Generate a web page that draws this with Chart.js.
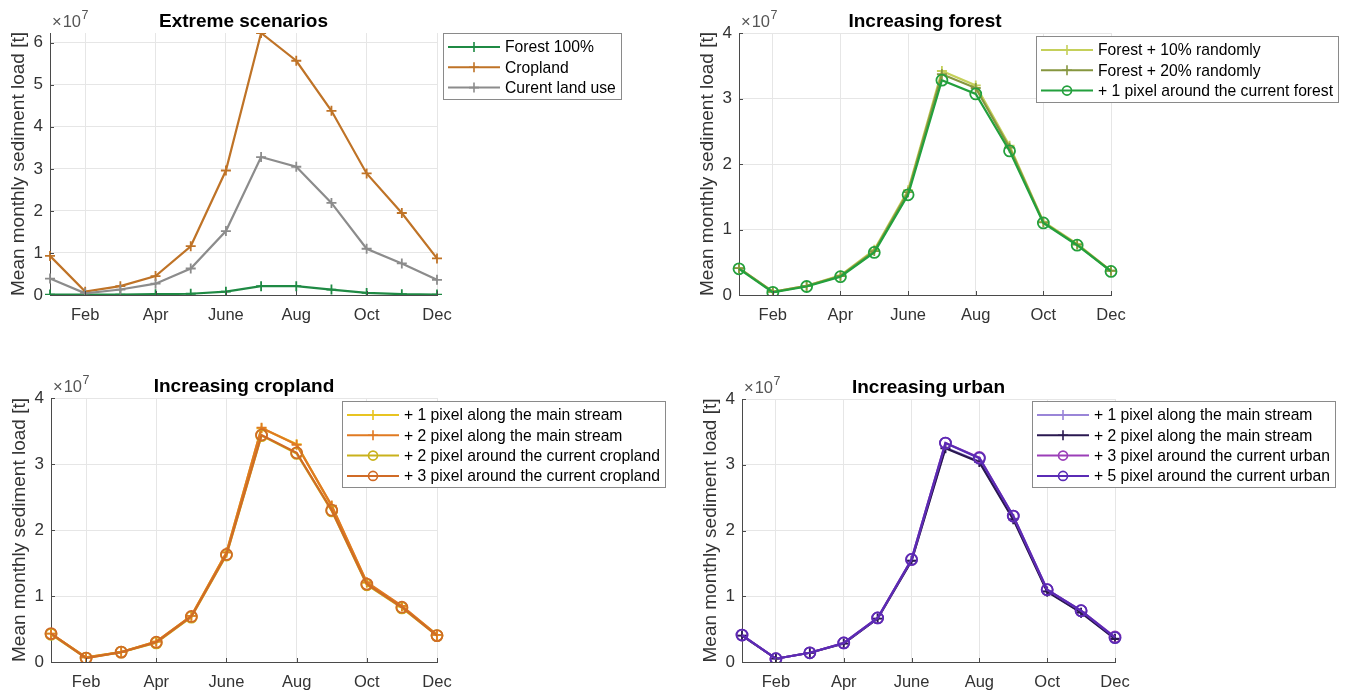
<!DOCTYPE html>
<html>
<head>
<meta charset="utf-8">
<script src="https://cdn.jsdelivr.net/npm/chart.js@4.4.1/dist/chart.umd.min.js"></script>
<style>
  html, body { margin: 0; background: #fff; }
  #wrap { position: relative; width: 1352px; height: 693px; overflow: hidden; }
  .panel { position: absolute; }
</style>
</head>
<body>
<div id="wrap">
  <div class="panel" style="left:0;top:0;width:676px;height:346px"><canvas id="c1"></canvas></div>
  <div class="panel" style="left:676px;top:0;width:676px;height:346px"><canvas id="c2"></canvas></div>
  <div class="panel" style="left:0;top:346px;width:676px;height:347px"><canvas id="c3"></canvas></div>
  <div class="panel" style="left:676px;top:346px;width:676px;height:347px"><canvas id="c4"></canvas></div>
</div>
<script>
// Mean monthly sediment load per land-use scenario, in units of 10^7 t.
var MONTHS = ["Jan", "Feb", "Mar", "Apr", "May", "June", "July", "Aug", "Sep", "Oct", "Nov", "Dec"];
var MONTH_TICKS = ["", "Feb", "", "Apr", "", "June", "", "Aug", "", "Oct", "", "Dec"];

// extreme scenarios
var FOREST_100 = [0.01, 0.01, 0.01, 0.02, 0.03, 0.08, 0.21, 0.21, 0.13, 0.05, 0.02, 0.01];
var CROPLAND_100 = [0.93, 0.08, 0.21, 0.45, 1.16, 2.96, 6.23, 5.57, 4.38, 2.89, 1.95, 0.87];
var CURRENT_USE = [0.39, 0.04, 0.13, 0.27, 0.63, 1.52, 3.28, 3.05, 2.19, 1.10, 0.75, 0.36];

// increasing forest
var FOREST_RAND10 = [0.41, 0.05, 0.14, 0.30, 0.69, 1.60, 3.42, 3.20, 2.28, 1.12, 0.78, 0.37];
var FOREST_RAND20 = [0.41, 0.05, 0.14, 0.29, 0.67, 1.57, 3.37, 3.16, 2.25, 1.11, 0.77, 0.37];
var FOREST_PX1 = [0.40, 0.04, 0.13, 0.28, 0.65, 1.53, 3.28, 3.07, 2.20, 1.10, 0.76, 0.36];

// increasing cropland
var CROP_STREAM1 = [0.43, 0.07, 0.15, 0.31, 0.70, 1.66, 3.54, 3.30, 2.36, 1.20, 0.84, 0.41];
var CROP_STREAM2 = [0.43, 0.07, 0.15, 0.31, 0.70, 1.66, 3.55, 3.29, 2.37, 1.21, 0.85, 0.41];
var CROP_AROUND2 = [0.42, 0.06, 0.15, 0.29, 0.68, 1.62, 3.43, 3.16, 2.29, 1.17, 0.82, 0.40];
var CROP_AROUND3 = [0.43, 0.06, 0.15, 0.30, 0.69, 1.63, 3.44, 3.17, 2.30, 1.18, 0.83, 0.40];

// increasing urban
var URBAN_STREAM1 = [0.40, 0.05, 0.14, 0.28, 0.66, 1.54, 3.26, 3.05, 2.18, 1.08, 0.75, 0.36];
var URBAN_STREAM2 = [0.40, 0.05, 0.14, 0.28, 0.66, 1.54, 3.25, 3.04, 2.17, 1.07, 0.75, 0.35];
var URBAN_AROUND3 = [0.41, 0.05, 0.14, 0.29, 0.67, 1.56, 3.33, 3.11, 2.22, 1.10, 0.78, 0.38];
var URBAN_AROUND5 = [0.41, 0.05, 0.14, 0.29, 0.67, 1.56, 3.33, 3.10, 2.22, 1.10, 0.78, 0.37];

var FONT = "'Liberation Sans', Arial, Helvetica, sans-serif";
var TEXT = "#333333", AXIS = "#4a4a4a", GRID = "#e6e6e6";
Chart.defaults.font.family = FONT;
Chart.defaults.color = TEXT;

// title, x10^7 exponent, inward tick marks and the boxed legend
var decor = {
  id: "panelDecor",
  afterDraw: function (chart, args, o) {
    var ca = chart.chartArea, ctx = chart.ctx;
    ctx.save();
    ctx.fillStyle = "#000";
    ctx.font = "bold 19px " + FONT;
    ctx.textAlign = "center"; ctx.textBaseline = "alphabetic";
    ctx.fillText(o.title, (ca.left + ca.right) / 2, ca.top - 6);

    ctx.fillStyle = "#555"; ctx.textAlign = "left";
    ctx.font = "16.5px " + FONT;
    ctx.fillText("\u00d7", ca.left + 2, ca.top - 6);
    var x = ca.left + 2 + ctx.measureText("\u00d7").width + 1;
    ctx.fillText("10", x, ca.top - 6);
    x += ctx.measureText("10").width + 0.5;
    ctx.font = "12.5px " + FONT;
    ctx.fillText("7", x, ca.top - 14);

    ctx.strokeStyle = AXIS; ctx.lineWidth = 1;
    var xs = chart.scales.x, ys = chart.scales.y;
    ctx.beginPath();
    xs.ticks.forEach(function (t, i) {
      if (!MONTH_TICKS[i]) return;
      var px = Math.round(xs.getPixelForTick(i)) + 0.5;
      ctx.moveTo(px, ca.bottom); ctx.lineTo(px, ca.bottom - 4);
    });
    ys.ticks.forEach(function (t, i) {
      var py = Math.round(ys.getPixelForTick(i)) + 0.5;
      ctx.moveTo(ca.left, py); ctx.lineTo(ca.left + 4, py);
    });
    ctx.stroke();

    var lg = o.legend, ds = chart.data.datasets, step = 20.3;
    ctx.font = "15.7px " + FONT;
    var tw = Math.max.apply(null, ds.map(function (d) { return ctx.measureText(d.label).width; }));
    var bw = Math.round(62 + tw + 5), bh = Math.round(14 + (ds.length - 1) * step + 11);
    ctx.fillStyle = "#fff"; ctx.fillRect(lg.x, lg.y, bw, bh);
    ctx.strokeStyle = "#8a8a8a"; ctx.strokeRect(lg.x + 0.5, lg.y + 0.5, bw, bh);
    ds.forEach(function (d, i) {
      var yy = lg.y + 14 + i * step, mx = lg.x + 31;
      ctx.strokeStyle = d.borderColor; ctx.lineWidth = 2;
      ctx.beginPath(); ctx.moveTo(lg.x + 5, yy); ctx.lineTo(lg.x + 57, yy); ctx.stroke();
      ctx.lineWidth = 1.6; ctx.beginPath();
      if (d.pointStyle === "circle") ctx.arc(mx, yy, 4.5, 0, Math.PI * 2);
      else { ctx.moveTo(mx - 5, yy); ctx.lineTo(mx + 5, yy); ctx.moveTo(mx, yy - 5); ctx.lineTo(mx, yy + 5); }
      ctx.stroke();
      ctx.fillStyle = "#000"; ctx.textBaseline = "middle";
      ctx.fillText(d.label, lg.x + 62, yy + 1);
    });
    ctx.restore();
  }
};

function makePanel(id, title, ymax, pad, legend, series) {
  var ds = series.map(function (s, i) {
    return { label: s[0], data: s[1], borderColor: s[2], backgroundColor: s[2],
             pointStyle: s[3], pointRadius: s[3] === "circle" ? 5.5 : 5,
             pointBorderColor: s[2], pointBackgroundColor: "rgba(0,0,0,0)",
             pointBorderWidth: 1.8, borderWidth: 2.2, tension: 0, order: -i };
  });
  new Chart(document.getElementById(id), {
    type: "line",
    data: { labels: MONTHS, datasets: ds },
    options: {
      responsive: true, maintainAspectRatio: false, animation: false, devicePixelRatio: 1,
      layout: { padding: pad },
      plugins: { legend: { display: false }, tooltip: { enabled: false },
                 panelDecor: { title: title, legend: legend } },
      scales: {
        x: {
          grid: { drawTicks: false, color: function (c) { return MONTH_TICKS[c.index] ? GRID : "rgba(0,0,0,0)"; } },
          border: { color: AXIS, width: 1 },
          ticks: { autoSkip: false, maxRotation: 0, padding: 11, color: TEXT, font: { size: 16.5 },
                   callback: function (v, i) { return MONTH_TICKS[i]; } },
          afterFit: function (s) { s.height = 30; }
        },
        y: {
          min: 0, max: ymax,
          grid: { drawTicks: false, color: GRID },
          border: { color: AXIS, width: 1 },
          ticks: { stepSize: 1, includeBounds: false, padding: 7, color: TEXT, font: { size: 17 } },
          title: { display: true, text: "Mean monthly sediment load [t]", color: TEXT,
                   font: { size: 19 }, padding: { top: 7, bottom: 0 } },
          afterFit: function (s) { s.width = 50; }
        }
      }
    },
    plugins: [decor]
  });
}

makePanel("c1", "Extreme scenarios", 6.23, { left: 0, right: 239, top: 33, bottom: 21 }, { x: 443, y: 33 }, [
  ["Forest 100%", FOREST_100, "#1f8a44", "cross"],
  ["Cropland", CROPLAND_100, "#bf7327", "cross"],
  ["Curent land use", CURRENT_USE, "#8c8c8c", "cross"]
]);
makePanel("c2", "Increasing forest", 4, { left: 13, right: 241, top: 33, bottom: 21 }, { x: 360, y: 36 }, [
  ["Forest + 10% randomly", FOREST_RAND10, "#c5d05a", "cross"],
  ["Forest + 20% randomly", FOREST_RAND20, "#86963f", "cross"],
  ["+ 1 pixel around the current forest", FOREST_PX1, "#23a03d", "circle"]
]);
makePanel("c3", "Increasing cropland", 4, { left: 1, right: 239, top: 52, bottom: 1 }, { x: 342, y: 55 }, [
  ["+ 1 pixel along the main stream", CROP_STREAM1, "#e8c421", "cross"],
  ["+ 2 pixel along the main stream", CROP_STREAM2, "#e07a22", "cross"],
  ["+ 2 pixel around the current cropland", CROP_AROUND2, "#c9b21c", "circle"],
  ["+ 3 pixel around the current cropland", CROP_AROUND3, "#d06b26", "circle"]
]);
makePanel("c4", "Increasing urban", 4, { left: 16, right: 237, top: 53, bottom: 1 }, { x: 356, y: 55 }, [
  ["+ 1 pixel along the main stream", URBAN_STREAM1, "#9a85d8", "cross"],
  ["+ 2 pixel along the main stream", URBAN_STREAM2, "#2a1850", "cross"],
  ["+ 3 pixel around the current urban", URBAN_AROUND3, "#9b3fb8", "circle"],
  ["+ 5 pixel around the current urban", URBAN_AROUND5, "#5a2bb5", "circle"]
]);
</script>
</body>
</html>
